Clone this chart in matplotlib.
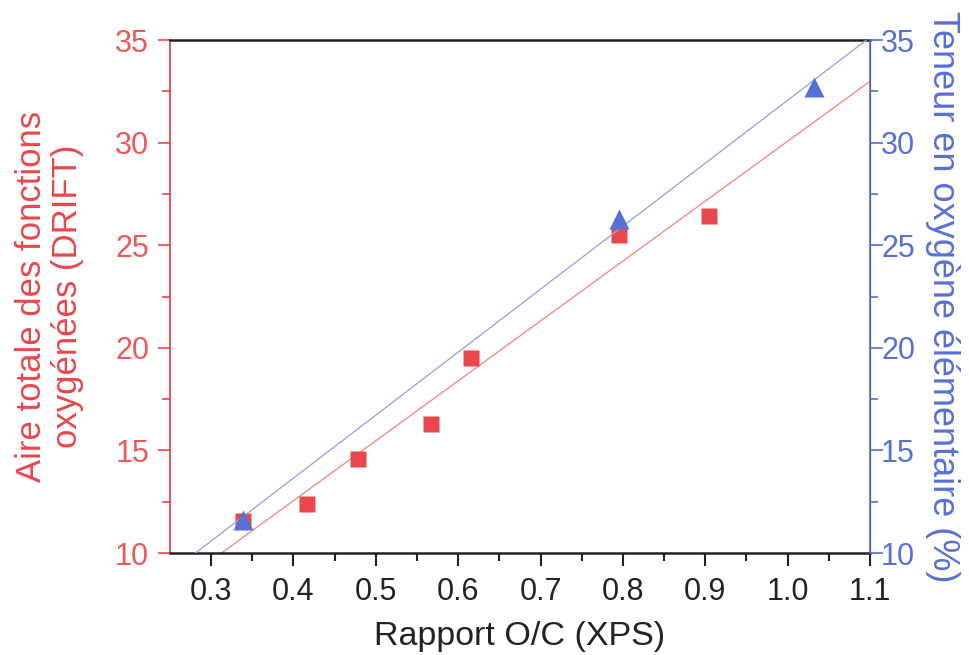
import numpy as np
import matplotlib.pyplot as plt

plt.rcParams['font.family'] = ['Liberation Sans', 'DejaVu Sans']

# Données
oc_drift = [0.339, 0.416, 0.478, 0.567, 0.616, 0.795, 0.904]
aire_drift = [11.55, 12.4, 14.6, 16.3, 19.5, 25.5, 26.4]

oc_elem = [0.339, 0.795, 1.032]
teneur_o = [11.6, 26.3, 32.7]

xticks = [0.3, 0.4, 0.5, 0.6, 0.7, 0.8, 0.9, 1.0, 1.1]
yticks = [10, 15, 20, 25, 30, 35]

red = '#e8474b'
red_txt = '#f0575a'
blue = '#5670d6'

fig = plt.figure(figsize=(9.69, 6.55), dpi=100)
ax = fig.add_axes([0.1754, 0.1557, 0.7224, 0.7832])
ax2 = ax.twinx()

# droites de régression
xs = np.linspace(0.25, 1.1, 50)
p1 = np.polyfit(oc_drift, aire_drift, 1)
p2 = np.polyfit(oc_elem, teneur_o, 1)
ax.plot(xs, np.polyval(p1, xs), color='#f08a8c', lw=1.0, zorder=2)
ax2.plot(xs, np.polyval(p2, xs), color='#9aa6e0', lw=1.0, zorder=2)

ax.plot(oc_drift, aire_drift, 's', color=red, ms=12, mec='none', zorder=3)
ax2.plot(oc_elem, teneur_o, '^', color=blue, ms=14, mec='none', zorder=3)

for a in (ax, ax2):
    a.set_xlim(0.25, 1.1)
    a.set_ylim(10, 35)

ax.set_xticks(xticks)
ax.set_xticklabels([f'{v:.1f}' for v in xticks])
ax.set_xticks(np.arange(0.35, 1.1, 0.1), minor=True)
ax.set_yticks(yticks)
ax.set_yticks([12.5, 17.5, 22.5, 27.5, 32.5], minor=True)
ax2.set_yticks(yticks)
ax2.set_yticks([12.5, 17.5, 22.5, 27.5, 32.5], minor=True)

ax.tick_params(axis='x', which='both', direction='out', colors='#222222',
               labelsize=22, width=1.5, pad=8)
ax.tick_params(axis='x', which='major', length=9)
ax.tick_params(axis='x', which='minor', length=6)
ax.tick_params(axis='y', which='both', direction='out', color=red,
               labelcolor=red_txt, labelsize=22, width=1.2, pad=6)
ax.tick_params(axis='y', which='major', length=9)
ax.tick_params(axis='y', which='minor', length=6)
ax2.tick_params(axis='y', which='both', direction='out', color=blue,
                labelcolor=blue, labelsize=22, width=1.2, pad=-1)
ax2.tick_params(axis='y', which='major', length=9)
ax2.tick_params(axis='y', which='minor', length=6)

ax.spines['left'].set_color(red)
ax.spines['left'].set_linewidth(1.3)
ax.spines['bottom'].set_color('#222222')
ax.spines['bottom'].set_linewidth(1.8)
ax.spines['top'].set_color('#222222')
ax.spines['top'].set_linewidth(1.8)
ax2.spines['right'].set_color(blue)
ax2.spines['right'].set_linewidth(1.2)
ax2.spines['left'].set_visible(False)
ax2.spines['top'].set_visible(False)
ax2.spines['bottom'].set_visible(False)

ax.set_xlabel('Rapport O/C (XPS)', fontsize=24.5, color='#222222', labelpad=10)
ax.set_ylabel('Aire totale des fonctions\noxygénées (DRIFT)', fontsize=25,
              color=red, labelpad=22, linespacing=1.15)
ax2.set_ylabel('Teneur en oxygène élémentaire (%)', fontsize=26, color=blue,
               rotation=270, labelpad=32)

plt.savefig('out.png', dpi=100)
